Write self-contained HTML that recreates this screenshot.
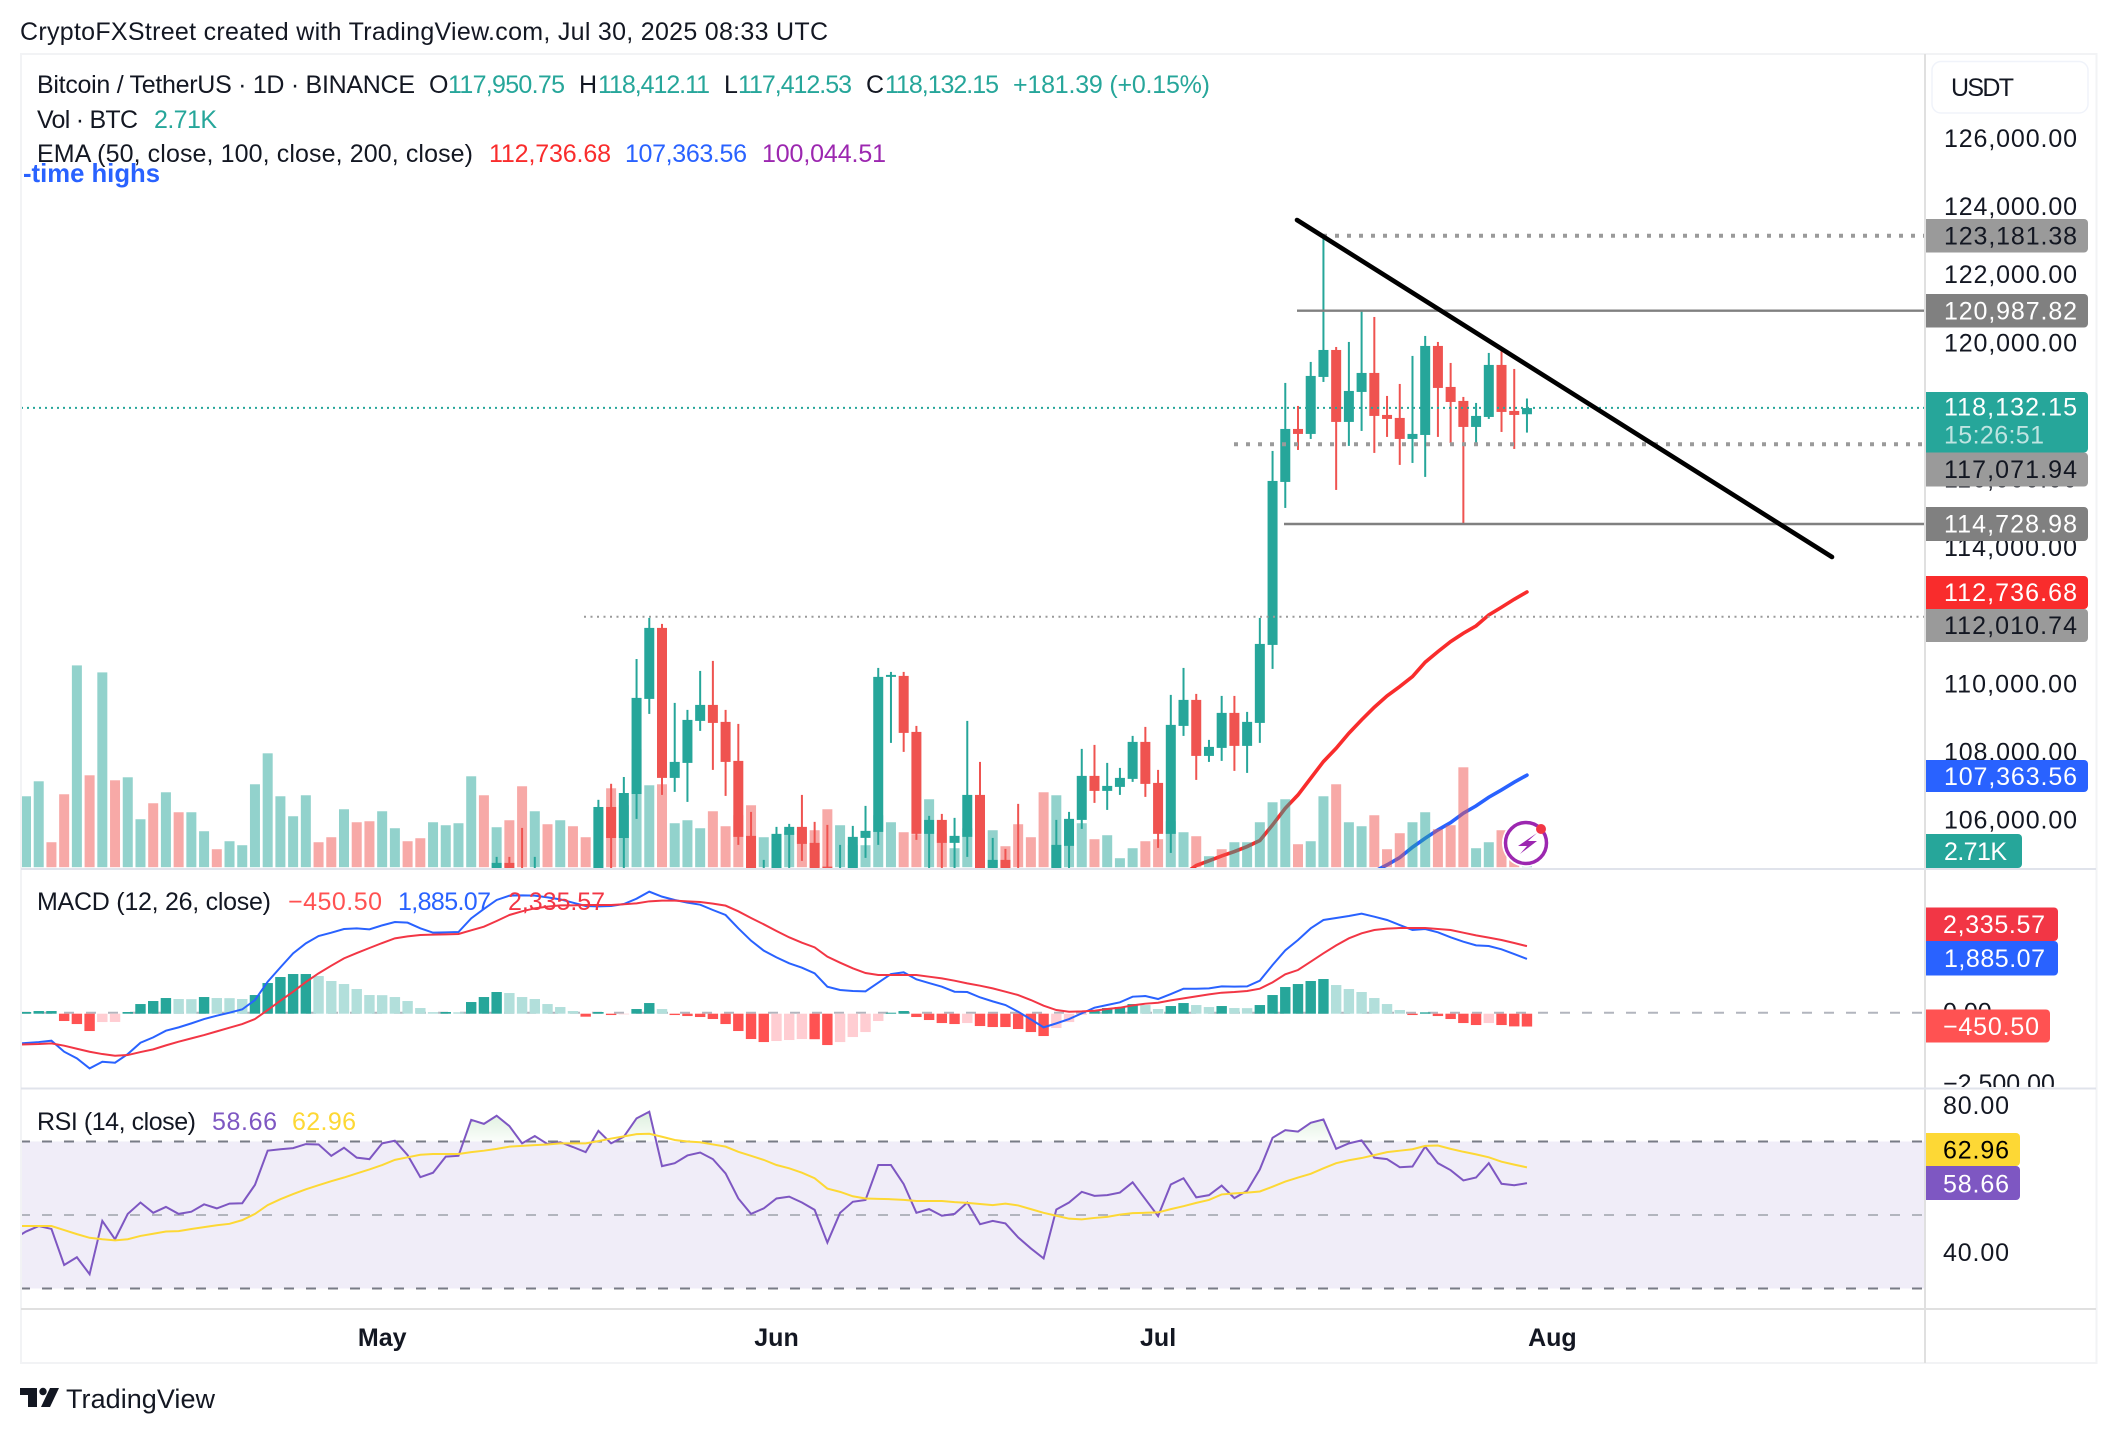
<!DOCTYPE html>
<html lang="en">
<head>
<meta charset="utf-8">
<title>BTC/USDT chart</title>
<style>
html,body{margin:0;padding:0;background:#fff;}
svg{display:block;font-family:"Liberation Sans",sans-serif;}
text{fill:#131722;font-size:25px;}
</style>
</head>
<body>
<svg id="chart" xmlns="http://www.w3.org/2000/svg" width="2116" height="1434" viewBox="0 0 2116 1434">
<defs>
<clipPath id="clip-main"><rect x="21" y="54" width="1903" height="814"/></clipPath>
<clipPath id="clip-macd"><rect x="21" y="870" width="1903" height="217"/></clipPath>
<clipPath id="clip-rsi"><rect x="21" y="1090" width="1903" height="218"/></clipPath>
<clipPath id="clip-rsi-top"><rect x="21" y="1090" width="1903" height="52"/></clipPath>
<clipPath id="clip-left"><rect x="21" y="54" width="400" height="200"/></clipPath>
<clipPath id="clip-axis-main"><rect x="1926" y="54" width="170" height="814"/></clipPath>
<clipPath id="clip-axis-macd"><rect x="1926" y="870" width="170" height="217"/></clipPath>
<clipPath id="clip-axis-all"><rect x="1926" y="54" width="170" height="1309"/></clipPath>
<linearGradient id="rsi-over" gradientUnits="userSpaceOnUse" x1="0" y1="1110" x2="0" y2="1142">
<stop offset="0" stop-color="#4caf50" stop-opacity="0.2"/><stop offset="1" stop-color="#4caf50" stop-opacity="0.02"/>
</linearGradient>
</defs>
<rect x="0" y="0" width="2116" height="1434" fill="#ffffff"/>
<text x="20" y="40" textLength="808">CryptoFXStreet created with TradingView.com, Jul 30, 2025 08:33 UTC</text>

<g id="rsi-back" clip-path="url(#clip-rsi)"></g>
<g id="main-ema" clip-path="url(#clip-main)"></g>
<g id="main-volume" clip-path="url(#clip-main)"></g>
<g id="main-candles" clip-path="url(#clip-main)"></g>
<g id="main-lines" clip-path="url(#clip-main)">
<line x1="1323" y1="235.7" x2="1925" y2="235.7" stroke="#9a9a9a" stroke-width="4" stroke-dasharray="4 8"/>
<line x1="1297" y1="310.7" x2="1925" y2="310.7" stroke="#808080" stroke-width="2.4"/>
<line x1="21" y1="407.9" x2="1925" y2="407.9" stroke="#26a69a" stroke-width="2" stroke-dasharray="2 4"/>
<line x1="1234" y1="444.2" x2="1925" y2="444.2" stroke="#9a9a9a" stroke-width="4" stroke-dasharray="4 8"/>
<line x1="1284" y1="524" x2="1925" y2="524" stroke="#808080" stroke-width="2.4"/>
<line x1="584" y1="616.7" x2="1925" y2="616.7" stroke="#9a9a9a" stroke-width="2" stroke-dasharray="2 4.5"/>
<line x1="1297" y1="220" x2="1832" y2="557" stroke="#000000" stroke-width="4.6" stroke-linecap="round"/>
</g>
<g id="macd-layer" clip-path="url(#clip-macd)"></g>
<g id="rsi-layer" clip-path="url(#clip-rsi)"></g>

<g clip-path="url(#clip-left)">
<text x="160" y="182" text-anchor="end" font-weight="bold" style="fill:#2962ff;font-size:25.7px">All-time highs</text>
</g>

<g>
<text x="37" y="93" textLength="378">Bitcoin / TetherUS · 1D · BINANCE</text>
<text x="429" y="93">O</text>
<text x="448" y="93" textLength="117" style="fill:#26a69a">117,950.75</text>
<text x="579" y="93">H</text>
<text x="598" y="93" textLength="112" style="fill:#26a69a">118,412.11</text>
<text x="724" y="93">L</text>
<text x="738" y="93" textLength="114" style="fill:#26a69a">117,412.53</text>
<text x="866" y="93">C</text>
<text x="885" y="93" textLength="114" style="fill:#26a69a">118,132.15</text>
<text x="1013" y="93" textLength="197" style="fill:#26a69a">+181.39 (+0.15%)</text>
<text x="37" y="128" textLength="101">Vol · BTC</text>
<text x="154" y="128" textLength="63" style="fill:#26a69a">2.71K</text>
<text x="37" y="162" textLength="436">EMA (50, close, 100, close, 200, close)</text>
<text x="489" y="162" textLength="122" style="fill:#f92c2c">112,736.68</text>
<text x="625" y="162" textLength="122" style="fill:#2962ff">107,363.56</text>
<text x="762" y="162" textLength="124" style="fill:#9c27b0">100,044.51</text>
</g>
<g>
<text x="37" y="910" textLength="234">MACD (12, 26, close)</text>
<text x="288" y="910" textLength="94" style="fill:#ff5252">−450.50</text>
<text x="398" y="910" textLength="93" style="fill:#2962ff">1,885.07</text>
<text x="508" y="910" textLength="97" style="fill:#f23645">2,335.57</text>
</g>
<g>
<text x="37" y="1130" textLength="159">RSI (14, close)</text>
<text x="212" y="1130" textLength="65" style="fill:#7e57c2">58.66</text>
<text x="292" y="1130" textLength="64" style="fill:#fdd835">62.96</text>
</g>

<g id="price-ticks" clip-path="url(#clip-axis-main)"></g>
<g id="macd-ticks" clip-path="url(#clip-axis-macd)"></g>
<g id="rsi-ticks"></g>

<g>
<rect x="1932" y="61.5" width="156" height="51.5" rx="9" fill="#ffffff" stroke="#f0f3fa" stroke-width="1.5"/>
<text x="1951" y="96" textLength="63">USDT</text>
</g>

<g clip-path="url(#clip-axis-all)">
<rect x="1918" y="219" width="170" height="33.5" rx="4" fill="#9a9a9a"/>
<text x="1944" y="244.5" textLength="133" style="fill:#131722">123,181.38</text>
<rect x="1918" y="294" width="170" height="33.5" rx="4" fill="#808080"/>
<text x="1944" y="319.5" textLength="133" style="fill:#ffffff">120,987.82</text>
<rect x="1918" y="392" width="170" height="60.5" rx="4" fill="#26a69a"/>
<text x="1944" y="415.5" textLength="133" style="fill:#ffffff">118,132.15</text>
<text x="1944" y="443.5" textLength="100" style="fill:#ffffff;fill-opacity:.7">15:26:51</text>
<rect x="1918" y="452.5" width="170" height="34" rx="4" fill="#9a9a9a"/>
<text x="1944" y="478" textLength="133" style="fill:#131722">117,071.94</text>
<rect x="1918" y="507" width="170" height="34" rx="4" fill="#808080"/>
<text x="1944" y="532.5" textLength="133" style="fill:#ffffff">114,728.98</text>
<rect x="1918" y="576" width="170" height="33" rx="4" fill="#f92c2c"/>
<text x="1944" y="601" textLength="133" style="fill:#ffffff">112,736.68</text>
<rect x="1918" y="609" width="170" height="33" rx="4" fill="#9a9a9a"/>
<text x="1944" y="634" textLength="133" style="fill:#131722">112,010.74</text>
<rect x="1918" y="760" width="170" height="32" rx="4" fill="#2962ff"/>
<text x="1944" y="785" textLength="133" style="fill:#ffffff">107,363.56</text>
<rect x="1918" y="834" width="104" height="34" rx="4" fill="#26a69a"/>
<text x="1944" y="860" textLength="63" style="fill:#ffffff">2.71K</text>
<rect x="1918" y="907.5" width="140" height="33.5" rx="4" fill="#f23645"/>
<text x="1943" y="933" textLength="102" style="fill:#ffffff">2,335.57</text>
<rect x="1918" y="941" width="140" height="34.5" rx="4" fill="#2962ff"/>
<text x="1944" y="967" textLength="101" style="fill:#ffffff">1,885.07</text>
<rect x="1918" y="1009.5" width="132" height="33" rx="4" fill="#ff5252"/>
<text x="1943" y="1035" textLength="96" style="fill:#ffffff">−450.50</text>
<rect x="1918" y="1133" width="102" height="33" rx="4" fill="#fdd835"/>
<text x="1943" y="1158.5" textLength="66" style="fill:#000000">62.96</text>
<rect x="1918" y="1166" width="102" height="34" rx="4" fill="#7e57c2"/>
<text x="1943" y="1192.5" textLength="66" style="fill:#ffffff">58.66</text>
</g>

<g id="time-axis"></g>

<g fill="none">
<rect x="21" y="54" width="2075.5" height="1309" stroke="#f2f3f5" stroke-width="2"/>
<line x1="1925" y1="54" x2="1925" y2="1363" stroke="#e0e0e0" stroke-width="2"/>
<line x1="21" y1="869" x2="2096" y2="869" stroke="#e0e3eb" stroke-width="2"/>
<line x1="21" y1="1088.5" x2="2096" y2="1088.5" stroke="#e0e3eb" stroke-width="2"/>
<line x1="21" y1="1309" x2="2096" y2="1309" stroke="#e0e0e0" stroke-width="2"/>
</g>

<g>
<circle cx="1526" cy="843" r="24" fill="#ffffff"/>
<circle cx="1526" cy="843" r="20.5" fill="none" stroke="#9c27b0" stroke-width="3.5"/>
<path d="M1537 833 L1518 846 L1527 846 L1520 854 L1537 841 L1528 841 Z" fill="#9c27b0"/>
<circle cx="1541" cy="829" r="5" fill="#f23645"/>
</g>

<g>
<path d="M20 1388 H37 V1407 H28 V1395 H20 Z" fill="#131722"/>
<circle cx="43" cy="1391.5" r="3.7" fill="#131722"/>
<path d="M50 1388 H59 L50 1407 H41 Z" fill="#131722"/>
<text x="66" y="1408" textLength="149" style="font-size:27px">TradingView</text>
</g>
</svg>

<script>
// ---- data ----
const candleStart = 37;
const opens = [104300,104790,104500,104300,104000,104200,104000,104100,104500,106430,105520,106810,109600,111683,107283,107723,108955,109424,108926,107782,105582,104000,104400,105611,105846,105377,104680,104200,104500,105523,105699,110246,110275,108632,105641,106051,105377,105553,106784,104500,104878,104600,104300,104100,104500,105289,106051,107342,106902,107019,107254,108339,107136,105641,108808,109571,107928,108163,109190,108222,108896,111184,115965,117519,117373,119045,119836,117725,118605,119162,117930,117842,117226,117343,119954,118751,118341,117578,117871,119397,118047,117950.75];
const highs = [104966,104966,105816,104966,104300,104400,104300,104500,106640,107110,107310,110770,111976,111800,109483,109278,110421,110715,109278,108867,106286,104878,105846,105934,106784,105993,105905,105318,105875,106462,110509,110392,110392,108808,106169,106227,106110,108955,107752,105523,105201,106521,104500,104400,106051,106286,108134,108251,107723,107576,108515,108779,107518,109718,110509,109747,108398,109688,109688,109219,111976,116874,118869,118194,119485,123181.38,119924,120071,120987.82,120804,118487,118839,119661,120247,120071,119455,118458,118282,119749,119807,119279,118412.11];
const lows = [104200,104200,104300,104200,103800,103900,103800,103900,104300,104400,104400,106080,109160,106784,106872,106579,108662,107518,106755,105318,104300,103900,104200,104400,104849,104300,104400,104100,104300,104937,105318,108310,108046,105465,104500,104500,104500,104966,104300,104300,104300,104200,104000,103900,104300,104500,105787,106550,106344,106784,107166,106726,105230,105083,108515,107224,107752,107782,107489,107430,108310,110480,115202,116903,117226,118898,115730,117021,117461,116816,117285,116464,116522,116112,117285,117109,114728.98,117079,117813,117431,116933,117412.53];
const closes = [104790,104300,104400,104500,104200,104000,104100,104300,106430,105520,106840,109630,111683,107283,107752,108984,109424,108896,107752,105553,104500,104500,105641,105846,105347,104500,104500,104500,105553,105729,110246,110304,108603,105641,106051,105377,105582,106784,104500,104878,104500,104400,104100,104200,105318,106081,107342,106902,107048,107283,108339,107107,105641,108838,109571,107928,108192,109190,108222,108926,111213,115994,117519,117373,119074,119836,117725,118634,119162,117901,117813,117226,117373,119954,118722,118311,117578,117901,119397,118018,117930,118132.15];

const volumes = [21.3,25.8,7.5,21.9,60.6,27.6,58.5,26.1,27.0,14.4,19.2,22.5,16.5,16.5,10.8,5.4,7.8,6.6,24.9,34.2,21.3,15.3,21.6,7.5,9.0,17.4,13.5,13.8,16.8,11.7,7.8,8.7,13.5,12.6,13.2,27.3,21.6,12.0,14.1,24.3,16.8,12.9,14.1,12.3,9.0,17.1,23.7,18.6,35.4,24.6,24.9,13.2,14.1,11.7,16.8,12.3,15.6,18.6,9.0,7.8,10.8,11.1,11.1,17.4,12.6,6.6,6.6,15.6,13.5,10.5,9.9,20.4,10.1,5.7,11.7,10.0,11.1,6.3,12.9,9.0,22.5,21.6,8.1,13.2,8.4,9.6,2.7,5.7,7.8,8.4,13.8,10.5,9.3,3.3,5.4,7.5,7.5,13.5,19.5,20.4,6.9,7.8,21.3,24.9,13.5,12.3,15.6,5.4,10.2,13.5,16.5,11.4,12.6,30.0,5.7,7.5,11.1,8.0,2.71];
const volumeDirections = "T T R R T R T R T T R T R T T R T T T T T T T R R T R R T T R R T T T T R T R R T R T R R T R T T T R T T T R R R R T T T R R R T T T T T R R T R T T R T R R R R T T T R T T T R R T T R T R T T T T T R T T R T T R R R T T R R R T T R R T".split(" ");

const ema50Start = 91;
const ema50 = [104450,104712,104849,104995,105122,105269,105445,105904,106393,106784,107273,107762,108153,108593,108984,109356,109688,109962,110255,110676,110988,111282,111526,111741,112064,112289,112523,112736.68];
const ema100Start = 106;
const ema100 = [104536,104731,104946,105249,105513,105758,105973,106247,106462,106716,106931,107156,107363.56];

// line series begin one bar before the first histogram bar, off the left edge
const lineSeriesStart = -1;
const macdLine = [-1090,-1065,-1030,-983,-1369,-1603,-1954,-1720,-1755,-1451,-1053,-866,-632,-515,-374,-222,-105,0,117,445,1088,1591,2083,2434,2691,2808,2937,2960,2925,3065,3182,3159,2960,2808,2820,2831,3311,3639,3955,4107,4118,4107,4048,3978,3861,3744,3732,3744,3814,4001,4247,4072,3955,3861,3791,3604,3428,2960,2527,2176,1942,1732,1580,1381,913,796,761,749,1053,1357,1416,1170,1041,913,737,725,538,398,269,35,-234,-515,-374,-222,-23,176,269,363,562,585,480,655,842,842,854,924,913,924,1123,1673,2188,2551,2960,3253,3323,3393,3475,3370,3253,3077,2902,2937,2820,2644,2492,2363,2340,2223,2059,1885.07];
const macdSignal = [-1120,-1112,-1100,-1076,-1158,-1264,-1369,-1451,-1509,-1486,-1381,-1287,-1147,-1018,-901,-784,-655,-527,-398,-222,94,421,737,1076,1381,1650,1907,2094,2270,2445,2609,2679,2726,2738,2750,2761,2890,3019,3218,3428,3557,3662,3721,3767,3767,3779,3779,3779,3803,3838,3908,3931,3931,3908,3884,3826,3756,3557,3323,3101,2867,2644,2457,2293,1966,1755,1556,1392,1322,1322,1322,1322,1264,1205,1123,1030,948,854,737,620,445,246,94,35,47,70,129,176,257,316,351,433,503,573,644,702,725,761,842,1065,1346,1498,1790,2083,2363,2609,2785,2902,2948,2972,2972,2972,2937,2902,2808,2714,2633,2551,2445,2335.57];
const macdHistogram = [59,94,94,-257,-363,-608,-293,-290,59,339,445,550,515,510,585,550,545,515,655,1076,1287,1392,1392,1322,1147,1041,866,655,650,585,445,199,55,59,50,410,585,761,725,585,515,339,234,94,-105,59,-47,-23,164,374,164,-47,-82,-117,-187,-363,-608,-889,-995,-959,-924,-889,-895,-1100,-995,-819,-644,-257,35,94,-117,-222,-328,-363,-328,-433,-468,-468,-538,-644,-784,-503,-293,-35,129,199,234,339,304,164,269,374,304,234,269,199,195,304,655,936,1041,1147,1217,1006,866,761,550,339,129,-47,47,-82,-187,-328,-398,-328,-398,-445,-450.50];

const rsiValues = [43.4,45.5,47.0,46.2,36.4,38.5,33.9,48.4,43.4,50.3,53.4,50.6,52.2,50.3,50.9,52.9,51.8,53.1,53.2,58.2,67.5,67.9,68.2,69.3,69.2,66.1,68.3,65.6,65.2,69.5,70.2,66.3,60.3,61.5,65.9,66.1,75.9,74.8,77.0,74.2,69.5,71.5,69.3,69.8,68.5,67.1,72.9,69.5,71.3,76.3,78.1,63.3,64.1,66.2,67.0,65.2,61.3,54.5,50.3,51.8,54.5,55.0,53.4,51.4,42.5,50.6,53.6,54.1,63.6,63.6,58.4,50.6,51.6,49.8,50.3,53.4,47.5,48.4,47.7,43.9,40.9,38.2,51.5,53.4,56.3,55.2,55.4,56.1,58.9,54.3,49.7,58.3,60.0,54.8,55.4,58.0,54.6,56.6,62.4,71.0,73.1,72.7,75.1,76.0,68.0,69.5,70.3,65.6,65.2,63.0,63.2,68.6,64.1,62.2,59.4,60.2,64.1,58.5,58.1,58.66];
const rsiAverage = [47.0,47.0,47.0,47.0,45.9,44.8,43.8,43.4,43.1,43.4,44.3,44.9,45.5,45.6,46.2,46.7,47.2,47.6,48.6,50.3,52.7,54.3,55.7,57.0,58.1,59.2,60.2,61.3,62.4,63.6,65.0,65.7,66.4,66.6,66.6,66.6,67.1,67.5,68.0,68.6,68.8,69.0,69.2,69.5,69.5,69.5,70.1,70.8,71.4,72.0,72.1,71.3,70.4,70.0,69.8,69.2,68.6,67.2,66.1,65.0,63.6,62.7,61.5,60.0,57.2,56.3,55.1,54.5,54.4,54.3,54.1,53.8,53.8,53.8,53.5,53.3,53.0,52.7,53.1,52.6,51.6,50.6,49.8,49.0,48.8,49.2,49.5,50.1,50.5,50.6,50.7,51.6,52.4,53.3,54.1,55.6,55.9,56.1,56.4,57.7,59.1,60.2,61.2,62.7,64.1,64.9,65.5,66.3,67.1,67.5,67.9,68.8,68.9,68.0,67.2,66.5,65.7,64.5,63.7,62.96];

const priceTicks = [126000,124000,122000,120000,118000,116000,114000,112000,110000,108000,106000];
const priceTickLabels = ["126,000.00","124,000.00","122,000.00","120,000.00","118,000.00","116,000.00","114,000.00","112,000.00","110,000.00","108,000.00","106,000.00"];
const macdTicks = [0,-2500];
const macdTickLabels = ["0.00","−2,500.00"];
const rsiTicks = [80,40];
const rsiTickLabels = ["80.00","40.00"];
const rsiLevels = [70,50,30];
const timeTickIndexes = [28,59,89,120];
const timeTickLabels = ["May","Jun","Jul","Aug"];

// ---- axes ----
const xAt = i => 26 + 12.72 * i;
const yPrice = p => 310.7 + (120987.82 - p) * 0.03409;
const yMacd = v => 1012.7 - v * 0.0285;
const yRsi = v => 1215 - (v - 50) * 3.675;
const volHeight = v => v * 3.33;
const VOL_BASE = 867.2;

const NS = "http://www.w3.org/2000/svg";
function mk(tag, parent) {
  const el = document.createElementNS(NS, tag);
  parent.appendChild(el);
  return el;
}
function linePath(values, start, yFn) {
  return values.map((v, k) => (k ? "L" : "M") + xAt(start + k).toFixed(2) + " " + yFn(v).toFixed(2)).join(" ");
}

// ---- EMA lines ----
const emaG = document.getElementById("main-ema");
const e50 = mk("path", emaG);


e50.setAttribute("d", linePath(ema50, ema50Start, yPrice));
e50.setAttribute("fill", "none");
e50.setAttribute("stroke", "#f92c2c");
e50.setAttribute("stroke-width", "3.6");
e50.setAttribute("stroke-linecap", "round");
const e100 = mk("path", emaG);


e100.setAttribute("d", linePath(ema100, ema100Start, yPrice));
e100.setAttribute("fill", "none");
e100.setAttribute("stroke", "#2962ff");
e100.setAttribute("stroke-width", "3.6");
e100.setAttribute("stroke-linecap", "round");

// ---- volume ----
const volG = document.getElementById("main-volume");
volumes.forEach((v, i) => {
  const r = mk("rect", volG);
  
  
  const h = volHeight(v);
  r.setAttribute("x", (xAt(i) - 5).toFixed(2));
  r.setAttribute("y", (VOL_BASE - h).toFixed(2));
  r.setAttribute("width", "10");
  r.setAttribute("height", h.toFixed(2));
  r.setAttribute("fill", volumeDirections[i] === "T" ? "rgba(38,166,154,.5)" : "rgba(239,83,80,.5)");
});

// ---- candles ----
const cG = document.getElementById("main-candles");
closes.forEach((c, k) => {
  const i = candleStart + k, o = opens[k], up = c >= o;
  const col = up ? "#26a69a" : "#ef5350";
  const wick = mk("rect", cG);
  
  
  wick.setAttribute("x", (xAt(i) - 1).toFixed(2));
  wick.setAttribute("y", yPrice(highs[k]).toFixed(2));
  wick.setAttribute("width", "2");
  wick.setAttribute("height", (yPrice(lows[k]) - yPrice(highs[k])).toFixed(2));
  wick.setAttribute("fill", col);
  const body = mk("rect", cG);
  
  
  const top = yPrice(Math.max(o, c)), bot = yPrice(Math.min(o, c));
  body.setAttribute("x", (xAt(i) - 5).toFixed(2));
  body.setAttribute("y", top.toFixed(2));
  body.setAttribute("width", "10");
  body.setAttribute("height", Math.max(bot - top, 1.5).toFixed(2));
  body.setAttribute("fill", col);
});

// ---- MACD ----
const mG = document.getElementById("macd-layer");
const zeroLine = mk("line", mG);


zeroLine.setAttribute("x1", "20");
zeroLine.setAttribute("x2", "1925");
zeroLine.setAttribute("y1", yMacd(0));
zeroLine.setAttribute("y2", yMacd(0));
zeroLine.setAttribute("stroke", "#b2b5be");
zeroLine.setAttribute("stroke-width", "2");
zeroLine.setAttribute("stroke-dasharray", "10 12");
macdHistogram.forEach((v, i) => {
  const prev = i ? macdHistogram[i - 1] : v;
  let col;
  if (v >= 0) col = v >= prev ? "#26a69a" : "#b2dfdb";
  else col = v <= prev ? "#ff5252" : "#ffcdd2";
  const r = mk("rect", mG);
  
  
  const y0 = yMacd(0) + 1, y1 = yMacd(v) + 1;
  r.setAttribute("x", (xAt(i) - 5.2).toFixed(2));
  r.setAttribute("y", Math.min(y0, y1).toFixed(2));
  r.setAttribute("width", "10.4");
  r.setAttribute("height", Math.abs(y1 - y0).toFixed(2));
  r.setAttribute("fill", col);
});
const mLine = mk("path", mG);


mLine.setAttribute("d", linePath(macdLine, lineSeriesStart, yMacd));
mLine.setAttribute("fill", "none");
mLine.setAttribute("stroke", "#2962ff");
mLine.setAttribute("stroke-width", "2");
const sLine = mk("path", mG);


sLine.setAttribute("d", linePath(macdSignal, lineSeriesStart, yMacd));
sLine.setAttribute("fill", "none");
sLine.setAttribute("stroke", "#f23645");
sLine.setAttribute("stroke-width", "2");

// ---- RSI ----
const rB = document.getElementById("rsi-back");
const band = mk("rect", rB);


band.setAttribute("x", "20");
band.setAttribute("y", yRsi(rsiLevels[0]));
band.setAttribute("width", "1905");
band.setAttribute("height", yRsi(rsiLevels[2]) - yRsi(rsiLevels[0]));
band.setAttribute("fill", "#f0edf8");
const rG = document.getElementById("rsi-layer");
rsiLevels.forEach((lv, k) => {
  const l = mk("line", rG);
  
  
  l.setAttribute("x1", "20");
  l.setAttribute("x2", "1925");
  l.setAttribute("y1", yRsi(lv));
  l.setAttribute("y2", yRsi(lv));
  l.setAttribute("stroke", k === 1 ? "#b2b5be" : "#787b86");
  l.setAttribute("stroke-width", "2");
  l.setAttribute("stroke-dasharray", "10 12");
});
const over = mk("path", rG);


over.setAttribute("clip-path", "url(#clip-rsi-top)");
over.setAttribute("d", linePath(rsiValues, lineSeriesStart, yRsi) + " L" + xAt(rsiValues.length + lineSeriesStart - 1) + " " + yRsi(70) + " L" + xAt(lineSeriesStart) + " " + yRsi(70) + " Z");
over.setAttribute("fill", "url(#rsi-over)");
const rLine = mk("path", rG);


rLine.setAttribute("d", linePath(rsiValues, lineSeriesStart, yRsi));
rLine.setAttribute("fill", "none");
rLine.setAttribute("stroke", "#7e57c2");
rLine.setAttribute("stroke-width", "2");
const aLine = mk("path", rG);


aLine.setAttribute("d", linePath(rsiAverage, lineSeriesStart, yRsi));
aLine.setAttribute("fill", "none");
aLine.setAttribute("stroke", "#fdd835");
aLine.setAttribute("stroke-width", "2");

// ---- axis ticks ----
const pT = document.getElementById("price-ticks");
priceTicks.forEach((p, k) => {
  const t = mk("text", pT);
  
  
  t.setAttribute("x", "1944");
  t.setAttribute("y", (yPrice(p) + 7).toFixed(1));
  t.setAttribute("textLength", "133");
  t.textContent = priceTickLabels[k];
});
const mT = document.getElementById("macd-ticks");
macdTicks.forEach((v, k) => {
  const t = mk("text", mT);
  
  
  t.setAttribute("x", "1943");
  t.setAttribute("y", (yMacd(v) + 8).toFixed(1));
  t.textContent = macdTickLabels[k];
});
const rT = document.getElementById("rsi-ticks");
rsiTicks.forEach((v, k) => {
  const t = mk("text", rT);
  
  
  t.setAttribute("x", "1943");
  t.setAttribute("y", (yRsi(v) + 9).toFixed(1));
  t.setAttribute("textLength", "66");
  t.textContent = rsiTickLabels[k];
});
const tA = document.getElementById("time-axis");
timeTickIndexes.forEach((i, k) => {
  const t = mk("text", tA);
  
  
  t.setAttribute("x", xAt(i).toFixed(1));
  t.setAttribute("y", "1346");
  t.setAttribute("text-anchor", "middle");
  t.setAttribute("font-weight", "bold");
  t.textContent = timeTickLabels[k];
});
</script>
</body>
</html>
